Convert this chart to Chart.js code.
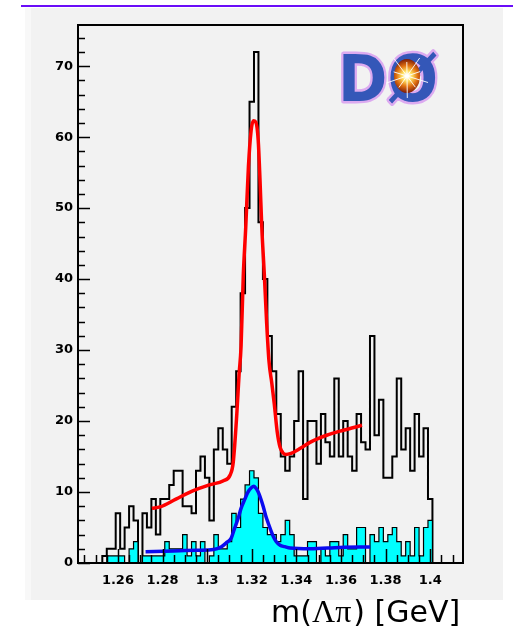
<!DOCTYPE html>
<html><head><meta charset="utf-8">
<script src="https://cdn.jsdelivr.net/npm/chart.js@4.4.1/dist/chart.umd.min.js"></script>
<style>html,body{margin:0;padding:0;background:#fff;}canvas{display:block;}</style>
</head><body>
<canvas id="c" width="513" height="628" style="width:513px;height:628px"></canvas>
<script>
// ---- data ----
const binLow = 1.241;      // lower edge of first bin (GeV)
const binWidth = 0.002;    // bin width (GeV)
const totalCounts = [0,0,0,0,0,0,1,2,2,7, 2,5,8,6,0,7,5,9,4,9, 9,11,13,13,8,8,7,13,15,12, 6,16,19,16,14,22,27,38,50,65, 72,48,40,32,27,21,15,13,15,20, 27,9,20,20,14,21,17,15,26,15, 20,15,13,21,17,16,32,18,23,12, 12,15,26,16,19,13,21,15,19,9];
const cyanCounts  = [0,0,0,0,0,0,0,1,1,1, 1,0,2,3,0,1,1,1,1,1, 3,2,2,2,4,1,3,1,3,0, 1,4,2,2,3,7,5,9,11,13, 12,7,5,4,4,3,4,6,4,1, 1,1,3,3,0,2,1,3,3,1, 4,2,2,5,5,0,4,3,5,3, 4,5,3,1,3,1,5,1,5,6];
const redFitX = [1.2752,1.2789,1.2860,1.2938,1.3010,1.3073,1.3103,1.3117,1.3133,1.3143,1.3152,1.3162,1.3173,1.3185,1.3197,1.3207,1.3218,1.3229,1.3237,1.3245,1.3256,1.3267,1.3277,1.3290,1.3301,1.3314,1.3327,1.3340,1.3353,1.3372,1.3420,1.3461,1.3536,1.3610,1.3694];
const redFitY = [7.7,7.9,9.0,10.2,11.0,11.6,12.4,14.2,21.0,26.5,30.5,40.5,47.3,55.8,60.9,62.3,62.1,59.5,53.9,47.3,40.8,33.7,28.5,25.3,22.4,18.5,16.3,15.5,15.3,15.4,16.2,17.0,18.0,18.7,19.4];
const blueFitX = [1.2724,1.2850,1.2959,1.3028,1.3064,1.3088,1.3108,1.3121,1.3139,1.3152,1.3169,1.3183,1.3198,1.3210,1.3220,1.3229,1.3243,1.3252,1.3265,1.3274,1.3288,1.3297,1.3310,1.3327,1.3348,1.3372,1.3461,1.3596,1.3731];
const blueFitY = [1.6,1.7,1.8,1.9,2.3,2.9,3.5,4.7,6.3,7.7,9.0,10.0,10.6,10.8,10.5,10.0,8.8,7.9,6.4,5.6,4.4,3.7,3.0,2.5,2.3,2.1,2.0,2.2,2.25];
const xTickLabels = ['1.26','1.28','1.3','1.32','1.34','1.36','1.38','1.4'];
const yTickLabels = ['0','10','20','30','40','50','60','70'];
const xTitleParts = [['m(', 'sans'], ['\u039B\u03C0', 'serif'], [') [GeV]', 'sans']];

// ---- helpers ----
function histPoints(counts){
  const pts = [{x: binLow, y: 0}];
  counts.forEach((c, i) => pts.push({x: binLow + i * binWidth, y: c}));
  const end = binLow + counts.length * binWidth;
  pts.push({x: end, y: counts[counts.length - 1]});
  pts.push({x: end, y: 0});
  return pts;
}
const curve = (xs, ys) => xs.map((x, i) => ({x, y: ys[i]}));

const decor = {
  id: 'decor',
  beforeDraw(chart){
    const ctx = chart.ctx;
    ctx.save();
    ctx.fillStyle = '#ffffff'; ctx.fillRect(0, 0, 513, 628);
    ctx.fillStyle = '#f2f2f2'; ctx.fillRect(25, 8, 478, 592);
    ctx.fillStyle = '#f8f8f8'; ctx.fillRect(25, 8, 6, 592);
    ctx.fillStyle = '#6a0cf8'; ctx.fillRect(21, 5, 492, 2);
    ctx.restore();
  },
  afterDraw(chart){
    const {ctx, chartArea: a, scales: {x, y}} = chart;
    ctx.save();
    // ticks
    ctx.strokeStyle = '#000'; ctx.lineWidth = 1.5;
    for (let v = 0; v <= y.max; v += 2){
      const py = Math.round(y.getPixelForValue(v)) + 0.5;
      const len = v % 10 === 0 ? 12 : 7;
      ctx.beginPath(); ctx.moveTo(a.left, py); ctx.lineTo(a.left + len, py); ctx.stroke();
    }
    const k0 = Math.ceil(x.min / 0.005 - 1e-6), k1 = Math.floor(x.max / 0.005 + 1e-6);
    for (let k = k0; k <= k1; k++){
      const px = Math.round(x.getPixelForValue(k * 0.005)) + 0.5;
      const len = (k % 4 === 0) ? 14 : 8;
      ctx.beginPath(); ctx.moveTo(px, a.bottom); ctx.lineTo(px, a.bottom - len); ctx.stroke();
    }
    // frame
    ctx.lineWidth = 2;
    ctx.strokeRect(a.left, a.top, a.right - a.left, a.bottom - a.top);
    // x-axis title
    ctx.fillStyle = '#000'; ctx.textBaseline = 'alphabetic';
    let tx = 271;
    xTitleParts.forEach(([t, f]) => {
      ctx.font = f === 'sans' ? '30px "DejaVu Sans"' : '32px "Liberation Serif"';
      ctx.fillText(t, tx, 622);
      tx += ctx.measureText(t).width + (f === 'serif' ? 2 : 0);
    });
    // DØ logo
    ctx.font = 'bold 64px "DejaVu Sans"';
    const w = ctx.measureText('D\u00D8').width;
    ctx.translate(338, 101);
    ctx.scale(100 / w, 1);
    ctx.lineJoin = 'round';
    ctx.strokeStyle = '#dcaaf0'; ctx.lineWidth = 5;
    ctx.strokeText('D\u00D8', 0, 0);
    ctx.fillStyle = '#3457b8';
    ctx.fillText('D\u00D8', 0, 0);
    ctx.setTransform(1, 0, 0, 1, 0, 0);
    const cx = 407, cy = 76;
    const g = ctx.createRadialGradient(cx, cy, 1, cx, cy, 17);
    g.addColorStop(0, '#ffffff'); g.addColorStop(0.25, '#ffe060');
    g.addColorStop(0.6, '#e07010'); g.addColorStop(1, '#7a1a08');
    ctx.fillStyle = g;
    ctx.beginPath(); ctx.ellipse(cx, cy, 13, 17, 0, 0, Math.PI * 2); ctx.fill();
    ctx.strokeStyle = 'rgba(255,255,255,0.9)'; ctx.lineWidth = 1;
    for (let i = 0; i < 10; i++){
      const ang = i * Math.PI / 5 + 0.3, r = (i % 2) ? 14 : 22;
      ctx.beginPath(); ctx.moveTo(cx, cy); ctx.lineTo(cx + r * Math.cos(ang), cy + r * Math.sin(ang)); ctx.stroke();
    }
    ctx.restore();
  }
};

new Chart(document.getElementById('c'), {
  type: 'line',
  data: {
    datasets: [
      {data: histPoints(totalCounts), stepped: true, borderColor: '#000', borderWidth: 2, fill: false, pointRadius: 0, order: 3},
      {data: curve(redFitX, redFitY), borderColor: '#ff0000', borderWidth: 3.5, fill: false, pointRadius: 0, cubicInterpolationMode: 'monotone', order: 2},
      {data: histPoints(cyanCounts), stepped: true, borderColor: '#000', borderWidth: 1.2, backgroundColor: '#00ffff', fill: 'origin', pointRadius: 0, order: 1},
      {data: curve(blueFitX, blueFitY), borderColor: '#0a0af0', borderWidth: 3.5, fill: false, pointRadius: 0, cubicInterpolationMode: 'monotone', order: 0}
    ]
  },
  options: {
    responsive: false, animation: false, devicePixelRatio: 1,
    layout: {padding: {left: 0, right: 50, top: 25, bottom: 30}},
    plugins: {legend: {display: false}, tooltip: {enabled: false}},
    scales: {
      x: {
        type: 'linear', min: 1.2421, max: 1.4147,
        grid: {display: false, drawTicks: false}, border: {display: false},
        ticks: {color: '#000', font: {family: 'DejaVu Sans', weight: 'bold', size: 13}, padding: 10, autoSkip: false, maxRotation: 0,
                callback: (v, i) => xTickLabels[i]},
        afterBuildTicks: s => { s.ticks = xTickLabels.map(t => ({value: parseFloat(t)})); },
        afterFit: s => { s.height = 35; }
      },
      y: {
        type: 'linear', min: 0, max: 75.8,
        grid: {display: false, drawTicks: false}, border: {display: false},
        ticks: {color: '#000', font: {family: 'DejaVu Sans', weight: 'bold', size: 13}, padding: 5, autoSkip: false,
                callback: (v, i) => yTickLabels[i]},
        afterBuildTicks: s => { s.ticks = yTickLabels.map(t => ({value: parseFloat(t)})); },
        afterFit: s => { s.width = 78; }
      }
    }
  },
  plugins: [decor]
});
</script>
</body></html>
